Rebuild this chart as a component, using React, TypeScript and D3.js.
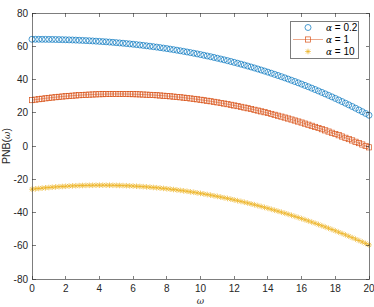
import React from "react";
import * as d3 from "d3";

const omega = [
  0, 0.2, 0.4, 0.6, 0.8, 1, 1.2, 1.4, 1.6, 1.8, 2, 2.2, 2.4, 2.6, 2.8, 3, 3.2, 3.4, 3.6, 3.8,
  4, 4.2, 4.4, 4.6, 4.8, 5, 5.2, 5.4, 5.6, 5.8, 6, 6.2, 6.4, 6.6, 6.8, 7, 7.2, 7.4, 7.6, 7.8,
  8, 8.2, 8.4, 8.6, 8.8, 9, 9.2, 9.4, 9.6, 9.8, 10, 10.2, 10.4, 10.6, 10.8, 11, 11.2, 11.4, 11.6, 11.8,
  12, 12.2, 12.4, 12.6, 12.8, 13, 13.2, 13.4, 13.6, 13.8, 14, 14.2, 14.4, 14.6, 14.8, 15, 15.2, 15.4, 15.6, 15.8,
  16, 16.2, 16.4, 16.6, 16.8, 17, 17.2, 17.4, 17.6, 17.8, 18, 18.2, 18.4, 18.6, 18.8, 19, 19.2, 19.4, 19.6, 19.8, 20,
];

// alpha = 0.2
const pnbA02 = [
  64.2, 64.2, 64.19, 64.17, 64.15, 64.13, 64.1, 64.06, 64.01, 63.96, 63.9, 63.84, 63.77, 63.69, 63.6, 63.51, 63.41, 63.31, 63.19, 63.07,
  62.94, 62.8, 62.66, 62.51, 62.35, 62.18, 62.0, 61.82, 61.62, 61.42, 61.21, 60.99, 60.76, 60.52, 60.28, 60.02, 59.75, 59.48, 59.19, 58.9,
  58.6, 58.28, 57.96, 57.63, 57.28, 56.93, 56.56, 56.19, 55.8, 55.41, 55.0, 54.58, 54.15, 53.71, 53.26, 52.8, 52.32, 51.84, 51.34, 50.83,
  50.31, 49.78, 49.23, 48.68, 48.11, 47.52, 46.93, 46.32, 45.7, 45.07, 44.42, 43.77, 43.09, 42.41, 41.71, 41.0, 40.27, 39.53, 38.78, 38.01,
  37.23, 36.44, 35.63, 34.8, 33.96, 33.11, 32.24, 31.36, 30.46, 29.55, 28.62, 27.68, 26.73, 25.75, 24.76, 23.76, 22.74, 21.7, 20.65, 19.58, 18.5,
];

// alpha = 1
const pnbA1 = [
  27.6, 27.89, 28.16, 28.42, 28.68, 28.92, 29.14, 29.36, 29.57, 29.76, 29.94, 30.12, 30.27, 30.42, 30.56, 30.68, 30.8, 30.9, 30.99, 31.07,
  31.14, 31.19, 31.24, 31.27, 31.29, 31.3, 31.3, 31.29, 31.26, 31.22, 31.18, 31.12, 31.05, 30.96, 30.87, 30.76, 30.65, 30.52, 30.38, 30.23,
  30.06, 29.89, 29.7, 29.51, 29.3, 29.08, 28.84, 28.6, 28.35, 28.08, 27.8, 27.51, 27.21, 26.9, 26.57, 26.24, 25.89, 25.53, 25.16, 24.78,
  24.38, 23.98, 23.56, 23.13, 22.7, 22.24, 21.78, 21.31, 20.82, 20.32, 19.82, 19.3, 18.76, 18.22, 17.67, 17.1, 16.52, 15.93, 15.33, 14.72,
  14.1, 13.46, 12.81, 12.16, 11.49, 10.8, 10.11, 9.41, 8.69, 7.96, 7.22, 6.47, 5.71, 4.94, 4.15, 3.36, 2.55, 1.73, 0.9, 0.05, -0.8,
];

// alpha = 10
const pnbA10 = [
  -26.0, -25.77, -25.55, -25.35, -25.15, -24.97, -24.8, -24.63, -24.48, -24.35, -24.22, -24.1, -24.0, -23.91, -23.83, -23.76, -23.7, -23.65, -23.62, -23.59,
  -23.58, -23.58, -23.59, -23.61, -23.64, -23.69, -23.74, -23.81, -23.89, -23.98, -24.08, -24.19, -24.32, -24.45, -24.6, -24.76, -24.93, -25.11, -25.3, -25.5,
  -25.72, -25.95, -26.18, -26.43, -26.7, -26.97, -27.25, -27.55, -27.85, -28.17, -28.5, -28.84, -29.19, -29.56, -29.93, -30.32, -30.72, -31.12, -31.54, -31.98,
  -32.42, -32.87, -33.34, -33.82, -34.31, -34.81, -35.32, -35.84, -36.38, -36.92, -37.48, -38.05, -38.63, -39.22, -39.82, -40.44, -41.06, -41.7, -42.35, -43.01,
  -43.68, -44.36, -45.06, -45.76, -46.48, -47.21, -47.95, -48.7, -49.46, -50.23, -51.02, -51.82, -52.62, -53.44, -54.28, -55.12, -55.97, -56.84, -57.71, -58.6, -59.5,
];

const xTicks = [0, 2, 4, 6, 8, 10, 12, 14, 16, 18, 20];
const yTicks = [-80, -60, -40, -20, 0, 20, 40, 60, 80];
const legendLabels = ["0.2", "1", "10"];

const W = 374;
const H = 307;
const m = { left: 32, right: 5, top: 13, bottom: 28 };
const axisColor = "#262626";
const font = "'Liberation Sans', Arial, sans-serif";
const blue = "#0072BD";
const orange = "#D95319";
const yellow = "#EDB120";

function Circle({ x, y }: { x: number; y: number }) {
  return <circle cx={x} cy={y} r={3} fill="none" stroke={blue} strokeWidth={0.7} />;
}
function Square({ x, y }: { x: number; y: number }) {
  return <rect x={x - 2.6} y={y - 2.6} width={5.2} height={5.2} fill="none" stroke={orange} strokeWidth={0.7} />;
}
function Star({ x, y }: { x: number; y: number }) {
  const s = 2.8, d = 2;
  return (
    <path
      d={`M${x - s},${y}H${x + s}M${x},${y - s}V${y + s}M${x - d},${y - d}L${x + d},${y + d}M${x - d},${y + d}L${x + d},${y - d}`}
      stroke={yellow}
      strokeWidth={0.7}
      fill="none"
    />
  );
}

export default function App() {
  const x = d3.scaleLinear().domain([0, 20]).range([m.left, W - m.right]);
  const y = d3.scaleLinear().domain([-80, 80]).range([H - m.bottom, m.top]);
  const x0 = x.range()[0], x1 = x.range()[1];
  const y0 = y.range()[0], y1 = y.range()[1];
  const line = d3.line<number>().x((_, i) => x(omega[i])).y((d) => y(d));
  const tl = 3.5;

  return (
    <svg width={W} height={H} style={{ position: "absolute", left: 0, top: 0, background: "#fff" }}>
      <rect x={0} y={0} width={W} height={H} fill="#fff" />

      {/* series */}
      {pnbA02.map((v, i) => <Circle key={"a" + i} x={x(omega[i])} y={y(v)} />)}
      <path d={line(pnbA1) || ""} fill="none" stroke={orange} strokeWidth={0.5} />
      {pnbA1.map((v, i) => <Square key={"b" + i} x={x(omega[i])} y={y(v)} />)}
      {pnbA10.map((v, i) => <Star key={"c" + i} x={x(omega[i])} y={y(v)} />)}

      {/* axes box + ticks */}
      <g stroke={axisColor} strokeWidth={0.6} fill="none" shapeRendering="crispEdges">
        <rect x={x0} y={y1} width={x1 - x0} height={y0 - y1} />
        {xTicks.map((t) => (
          <g key={"xt" + t}>
            <line x1={x(t)} x2={x(t)} y1={y0} y2={y0 - tl} />
            <line x1={x(t)} x2={x(t)} y1={y1} y2={y1 + tl} />
          </g>
        ))}
        {yTicks.map((t) => (
          <g key={"yt" + t}>
            <line x1={x0} x2={x0 + tl} y1={y(t)} y2={y(t)} />
            <line x1={x1} x2={x1 - tl} y1={y(t)} y2={y(t)} />
          </g>
        ))}
      </g>
      <g fontFamily={font} fontSize={10} fill={axisColor}>
        {xTicks.map((t) => (
          <text key={"xl" + t} x={x(t)} y={y0 + 13} textAnchor="middle">{t}</text>
        ))}
        {yTicks.map((t) => (
          <text key={"yl" + t} x={x0 - 4} y={y(t) + 3.5} textAnchor="end">{t}</text>
        ))}
        <text x={(x0 + x1) / 2} y={H - 3} textAnchor="middle" fontFamily="'DejaVu Serif', serif" fontStyle="italic" fontSize={9}>ω</text>
        <text transform={`translate(${10},${(y0 + y1) / 2}) rotate(-90)`} textAnchor="middle" fontSize={10.5}>
          PNB(<tspan fontFamily="'DejaVu Serif', serif" fontStyle="italic" fontSize={9}>ω</tspan>)
        </text>
      </g>

      {/* legend */}
      <g>
        <rect x={290} y={21} width={68} height={37} fill="#fff" stroke={axisColor} strokeWidth={0.6} shapeRendering="crispEdges" />
        <Circle x={308} y={27.5} />
        <line x1={293} x2={323} y1={39.5} y2={39.5} stroke={orange} strokeWidth={0.5} />
        <Square x={308} y={39.5} />
        <Star x={308} y={51.5} />
        {legendLabels.map((l, i) => (
          <text key={l} x={326} y={31 + i * 12} fontFamily={font} fontSize={10} fill="#000">
            <tspan fontFamily="'DejaVu Serif', serif" fontStyle="italic" fontSize={9}>α</tspan> = {l}
          </text>
        ))}
      </g>
    </svg>
  );
}
